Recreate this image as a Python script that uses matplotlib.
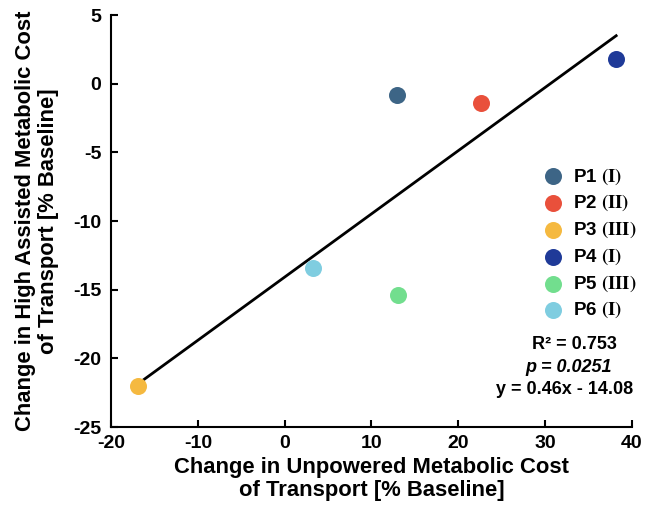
import matplotlib.pyplot as plt

plt.rcParams['font.family'] = ['Liberation Sans', 'DejaVu Sans']
plt.rcParams['font.weight'] = 'bold'
plt.rcParams['mathtext.fontset'] = 'stix'
plt.rcParams['axes.unicode_minus'] = False

# Participant data
names = ['P1', 'P2', 'P3', 'P4', 'P5', 'P6']
groups = ['I', 'II', 'III', 'I', 'III', 'I']
unpowered = [12.9, 22.6, -16.9, 38.2, 13.1, 3.3]
high_assist = [-0.8, -1.4, -22.0, 1.8, -15.4, -13.4]
colors = ['#3d6586', '#e9503b', '#f5b940', '#1f3a98', '#72de8e', '#7fcde0']

# Regression fit
slope = 0.46
intercept = -14.08
r2 = 0.753
p_val = 0.0251

fig = plt.figure(figsize=(6.46, 5.09), dpi=100)
ax = fig.add_axes([0.172, 0.161, 0.806, 0.8095])

xs = [min(unpowered), max(unpowered)]
ax.plot(xs, [slope * x + intercept for x in xs], color='black', lw=2, zorder=1)

for n, g, x, y, c in zip(names, groups, unpowered, high_assist, colors):
    ax.scatter(x, y, s=150, color=c, zorder=3, linewidths=0,
               label=n + r' $\mathbf{(' + g + r')}$')

ax.set_xlim(-20, 40)
ax.set_ylim(-25, 5)
ax.set_xticks(range(-20, 41, 10))
ax.set_yticks(range(-25, 6, 5))
ax.tick_params(direction='in', length=5, width=1.5, labelsize=14)
ax.tick_params(axis='y', pad=7)
ax.tick_params(axis='x', pad=6)
for side in ['top', 'right']:
    ax.spines[side].set_visible(False)
for side in ['left', 'bottom']:
    ax.spines[side].set_linewidth(1.5)

ax.set_xlabel('Change in Unpowered Metabolic Cost\nof Transport [% Baseline]',
              fontsize=15.8, fontweight='bold', labelpad=3, linespacing=1.15)
ax.set_ylabel('Change in High Assisted Metabolic Cost\nof Transport [% Baseline]',
              fontsize=15.8, fontweight='bold', labelpad=10, linespacing=1.15)

leg = ax.legend(loc='center left', bbox_to_anchor=(0.798, 0.446), frameon=False,
                fontsize=13.5, handletextpad=0.1, labelspacing=0.34,
                borderaxespad=0, scatterpoints=1)

ax.text(0.890, 0.200, 'R\u00b2 = ' + str(r2), transform=ax.transAxes,
        ha='center', va='center', fontsize=13, fontweight='bold')
ax.text(0.878, 0.144, 'p = ' + str(p_val), transform=ax.transAxes,
        ha='center', va='center', fontsize=13, fontweight='bold', style='italic')
ax.text(0.870, 0.090, 'y = %.2fx - %.2f' % (slope, -intercept), transform=ax.transAxes,
        ha='center', va='center', fontsize=13, fontweight='bold')

fig.savefig('out.png', dpi=100)
